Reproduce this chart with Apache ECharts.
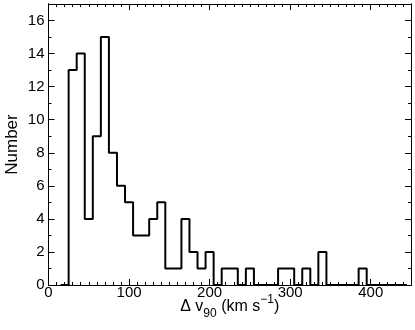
<!DOCTYPE html>
<html>
<head>
<meta charset="utf-8">
<script src="https://cdn.jsdelivr.net/npm/echarts@6/dist/echarts.min.js"></script>
<style>html,body{margin:0;padding:0;background:#fff}#c{width:415px;height:330px}</style>
</head>
<body>
<div id="c"></div>
<script>
// Histogram bins (left edges, width 10) and counts
var binLeft = [15,25,35,45,55,65,75,85,95,105,115,125,135,145,155,165,175,185,195,205,
               215,225,235,245,255,265,275,285,295,305,315,325,335,345,355,365,375,385,395,405,
               415,425,435];
var binWidth = 10;
var counts = [0,13,14,4,9,15,8,6,5,3,3,4,5,1,1,4,2,1,2,0,
              1,1,0,1,0,0,0,1,1,0,1,0,2,0,0,0,0,1,0,0,
              0,0,0];
var xTicks = [0,100,200,300,400];
var yTicks = [0,2,4,6,8,10,12,14,16];

var pts = [];
for (var i = 0; i < binLeft.length; i++) {
  pts.push([binLeft[i], counts[i]]);
  pts.push([binLeft[i] + binWidth, counts[i]]);
}

var FONT = 'Liberation Sans';
var lineCol = '#000';
function xAx(pos, interval, len, labels) {
  return {
    type: 'value', position: pos, min: 0, max: 450, interval: interval,
    axisLine: { show: true, onZero: false, lineStyle: { color: lineCol, width: 1 } },
    axisTick: { show: true, inside: true, length: len, lineStyle: { color: lineCol, width: 1 } },
    axisLabel: labels ? { show: true, margin: 0, fontFamily: FONT, fontSize: 15, color: '#000', showMaxLabel: false,
      formatter: function (v) { return xTicks.indexOf(v) >= 0 ? String(v) : ''; } } : { show: false },
    splitLine: { show: false }
  };
}
function yAx(pos, interval, len, labels) {
  return {
    type: 'value', position: pos, min: 0, max: 17, interval: interval,
    axisLine: { show: true, onZero: false, lineStyle: { color: lineCol, width: 1 } },
    axisTick: { show: true, inside: true, length: len, lineStyle: { color: lineCol, width: 1 } },
    axisLabel: labels ? { show: true, margin: 4, fontFamily: FONT, fontSize: 15, color: '#000', showMaxLabel: false,
      formatter: function (v) { return yTicks.indexOf(v) >= 0 ? String(v) : ''; } } : { show: false },
    splitLine: { show: false }
  };
}

var xa0 = xAx('bottom', 100, 6, true);
xa0.name = '{n|Δ v}{sub|90}{n| (km s}{sup|−1}{n|)}';
xa0.nameLocation = 'middle';
xa0.nameGap = 9;
xa0.nameMoveOverlap = false;
xa0.nameTextStyle = {
  fontFamily: FONT, color: '#000', verticalAlign: 'top',
  rich: {
    n: { fontFamily: FONT, fontSize: 16, color: '#000', lineHeight: 26, verticalAlign: 'middle' },
    sub: { fontFamily: FONT, fontSize: 12, color: '#000', lineHeight: 26, verticalAlign: 'bottom' },
    sup: { fontFamily: FONT, fontSize: 12, color: '#000', lineHeight: 26, verticalAlign: 'top' }
  }
};
var ya0 = yAx('left', 2, 6, true);
ya0.name = 'Number';
ya0.nameLocation = 'middle';
ya0.nameGap = 28;
ya0.nameMoveOverlap = false;
ya0.nameTextStyle = { fontFamily: FONT, fontSize: 17, color: '#000' };

var chart = echarts.init(document.getElementById('c'), null, { renderer: 'canvas' });
chart.setOption({
  animation: false,
  backgroundColor: '#fff',
  grid: { left: 48.5, right: 4, top: 4, bottom: 45, containLabel: false, outerBoundsMode: 'none' },
  xAxis: [xa0, xAx('bottom', 10, 3, false), xAx('top', 100, 6, false), xAx('top', 10, 3, false)],
  yAxis: [ya0, yAx('left', 1, 3, false), yAx('right', 2, 6, false), yAx('right', 1, 3, false)],
  series: [{
    type: 'line', xAxisIndex: 0, yAxisIndex: 0, data: pts, showSymbol: false, symbol: 'none',
    lineStyle: { color: '#000', width: 2 }, clip: true
  }]
});
</script>
</body>
</html>
